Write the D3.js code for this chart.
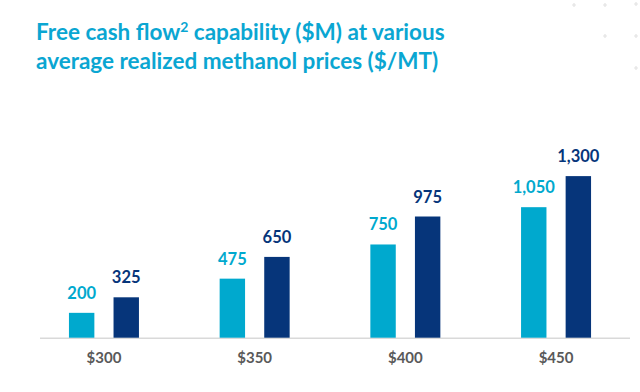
<!DOCTYPE html>
<html>
<head>
<meta charset="utf-8">
<script src="https://cdn.jsdelivr.net/npm/d3@7"></script>
<style>
  html, body { margin: 0; padding: 0; background: #ffffff; }
  svg { display: block; }
</style>
</head>
<body>
<svg id="chart" width="640" height="392"></svg>
<script>
// ---- data ----
const categories = ["$300", "$350", "$400", "$450"];
const seriesNames = ["Low", "High"];
const lowValues  = [200, 475, 750, 1050];
const highValues = [325, 650, 975, 1300];
const valueLabels = {
  Low:  ["200", "475", "750", "1,050"],
  High: ["325", "650", "975", "1,300"]
};
const titleLines = [
  ["Free cash flow", "2", " capability ($M) at various"],
  ["average realized methanol prices ($/MT)"]
];

// ---- style ----
const colors = { Low: "#00A9CE", High: "#06357A" };
const titleColor = "#0AA6D2";
const font = "Lato, 'Open Sans', 'DejaVu Sans', sans-serif";

const svg = d3.select("#chart");
const baseline = 337.7;
const pxPerUnit = 0.1243;

const x0 = d3.scaleBand().domain(categories).range([28.6, 631.4]).paddingInner(0).paddingOuter(0);
const x1 = d3.scaleBand().domain(seriesNames).range([-35, 35]).paddingInner(0.43).paddingOuter(0);
const y = d3.scaleLinear().domain([0, 1300]).range([baseline, baseline - 1300 * pxPerUnit]);

// decorative dots (top right)
const deco = [[574,5],[605,5],[636,4],[605,36],[636,36],[636,68]];
svg.append("g").selectAll("path").data(deco).enter().append("path")
  .attr("d", d => `M${d[0]-2},${d[1]}h4M${d[0]},${d[1]-2}v4`)
  .attr("stroke", "#e3e3e3").attr("stroke-width", 1.2);

// title
const title = svg.append("g");
titleLines.forEach((parts, i) => {
  const t = title.append("text")
    .attr("x", 36).attr("y", 39.5 + i * 29)
    .attr("fill", titleColor)
    .attr("font-family", font)
    .attr("font-weight", 700)
    .attr("font-size", 22.5);
  parts.forEach((p, j) => {
    const ts = t.append("tspan").text(p);
    if (parts.length > 1 && j === 1) ts.attr("font-size", 14).attr("dy", -8);
    if (parts.length > 1 && j === 2) ts.attr("dy", 8);
  });
});

// data table
const rows = categories.map((c, i) => ({ cat: c, i, Low: lowValues[i], High: highValues[i] }));

// axis line
svg.append("line")
  .attr("x1", 40).attr("x2", 630)
  .attr("y1", baseline + 0.5).attr("y2", baseline + 0.5)
  .attr("stroke", "#d9d9d9").attr("stroke-width", 1.5);

const groups = svg.append("g").selectAll("g").data(rows).enter().append("g")
  .attr("transform", d => `translate(${x0(d.cat) + x0.bandwidth() / 2},0)`);

groups.selectAll("rect").data(d => seriesNames.map(s => ({ s, v: d[s], i: d.i })))
  .enter().append("rect")
  .attr("x", d => x1(d.s))
  .attr("width", x1.bandwidth())
  .attr("y", d => y(d.v))
  .attr("height", d => y(0) - y(d.v))
  .attr("fill", d => colors[d.s]);

groups.selectAll("text.val").data(d => seriesNames.map(s => ({ s, v: d[s], i: d.i })))
  .enter().append("text").attr("class", "val")
  .attr("x", d => x1(d.s) + x1.bandwidth() / 2)
  .attr("y", d => y(d.v) - 14)
  .attr("text-anchor", "middle")
  .attr("fill", d => colors[d.s])
  .attr("font-family", font)
  .attr("font-weight", 700)
  .attr("font-size", 16.5)
  .text(d => valueLabels[d.s][d.i]);

// category axis labels
const xAxis = d3.axisBottom(x0).tickSize(0).tickPadding(0);
const ax = svg.append("g").attr("transform", `translate(0,${baseline})`).call(xAxis);
ax.select(".domain").remove();
ax.selectAll("text")
  .attr("y", 25.5).attr("dy", 0)
  .attr("fill", "#595959")
  .attr("font-family", font)
  .attr("font-weight", 700)
  .attr("font-size", 15);
</script>
</body>
</html>
